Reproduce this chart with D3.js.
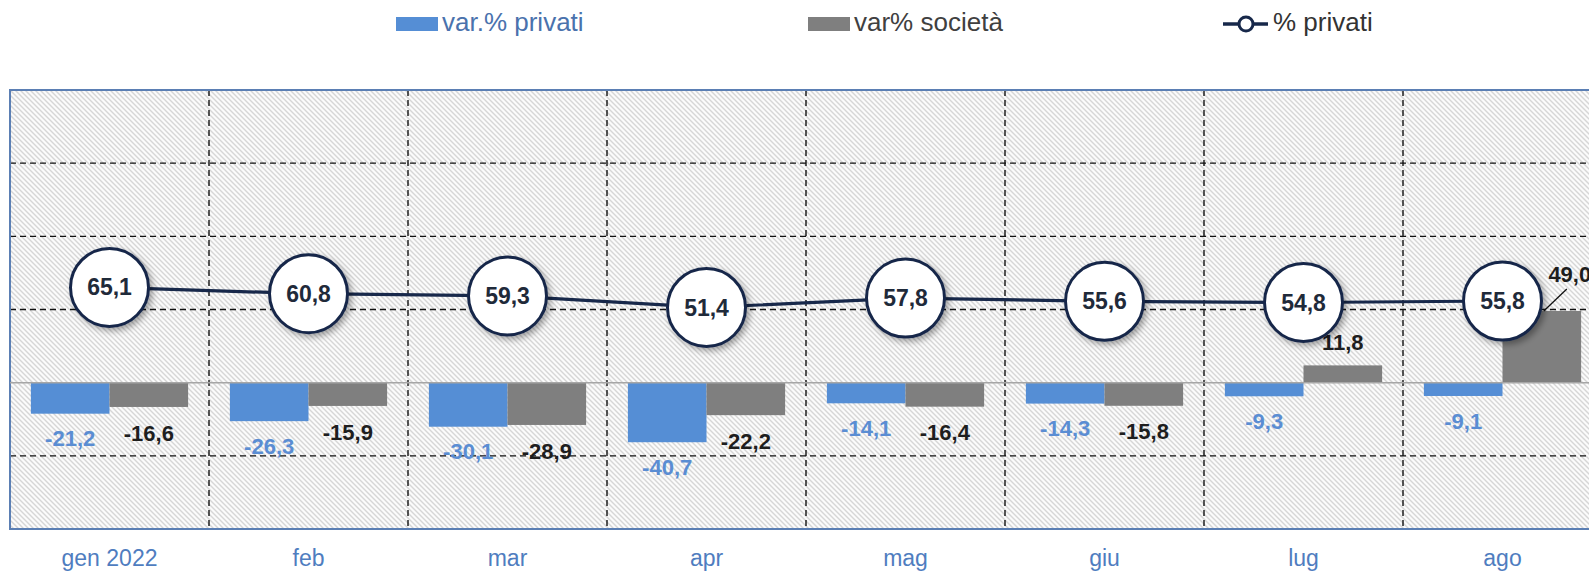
<!DOCTYPE html>
<html>
<head>
<meta charset="utf-8">
<script src="https://cdn.jsdelivr.net/npm/d3@7"></script>
<style>
  body { margin: 0; background: #fff; overflow: hidden; }
  svg { display: block; font-family: "Liberation Sans", Arial, sans-serif; }
</style>
</head>
<body>
<svg></svg>
<script>
const width = 1589;
const height = 573;

const months = ["gen 2022", "feb", "mar", "apr", "mag", "giu", "lug", "ago"];
const varPrivati = [-21.2, -26.3, -30.1, -40.7, -14.1, -14.3, -9.3, -9.1];
const varSocieta = [-16.6, -15.9, -28.9, -22.2, -16.4, -15.8, 11.8, 49.0];
const quotaPrivati = [65.1, 60.8, 59.3, 51.4, 57.8, 55.6, 54.8, 55.8];
const yTicks = [-50, 0, 50, 100, 150];

const blue = "#558ed5";
const grey = "#7f7f7f";
const navy = "#17284a";

const svg = d3.select("svg").attr("width", width).attr("height", height);
const fmt = v => d3.format(".1f")(v).replace(".", ",").replace("\u2212", "-");

const plot = { left: 10, top: 90, bottom: 529, bandW: 199 };

const x = d3.scaleBand().domain(months)
  .range([plot.left, plot.left + plot.bandW * months.length]).padding(0);
const xs = d3.scaleBand().domain(["privati", "societa"])
  .range([x.bandwidth() * 0.105, x.bandwidth() * 0.895]);
const y = d3.scaleLinear().domain([-100, 200]).range([plot.bottom, plot.top]);

const defs = svg.append("defs");
const pat = defs.append("pattern").attr("id", "hatch")
  .attr("patternUnits", "userSpaceOnUse").attr("width", 5).attr("height", 5);
pat.append("rect").attr("width", 5).attr("height", 5).attr("fill", "#fbfbfb");
pat.append("path").attr("d", "M-1,-1 L6,6 M-1,4 L1,6 M4,-1 L6,1")
  .attr("stroke", "#d6d6d6").attr("stroke-width", 1.4);

const shadow = defs.append("filter").attr("id", "shadow")
  .attr("x", "-30%").attr("y", "-30%").attr("width", "170%").attr("height", "170%");
shadow.append("feDropShadow").attr("dx", 3).attr("dy", 3)
  .attr("stdDeviation", 3).attr("flood-color", "#000").attr("flood-opacity", 0.35);

// plot area
const [x0, x1] = x.range();
svg.append("rect")
  .attr("x", x0).attr("y", y(200))
  .attr("width", x1 - x0).attr("height", y(-100) - y(200))
  .attr("fill", "url(#hatch)");

// grid
svg.append("g").selectAll("line")
  .data(yTicks.filter(d => d !== 0))
  .join("line")
  .attr("x1", x0).attr("x2", x1)
  .attr("y1", d => y(d)).attr("y2", d => y(d))
  .attr("stroke", "#111").attr("stroke-width", 1.4).attr("stroke-dasharray", "6,4");

svg.append("g").selectAll("line")
  .data(months.slice(1))
  .join("line")
  .attr("x1", d => x(d)).attr("x2", d => x(d))
  .attr("y1", y(200)).attr("y2", y(-100))
  .attr("stroke", "#111").attr("stroke-width", 1.4).attr("stroke-dasharray", "6,4");

// border
svg.append("rect")
  .attr("x", x0).attr("y", y(200))
  .attr("width", x1 - x0).attr("height", y(-100) - y(200))
  .attr("fill", "none").attr("stroke", "#5b7fb4").attr("stroke-width", 2);

// bars
const rows = months.map((m, i) => ({ m, p: varPrivati[i], s: varSocieta[i], q: quotaPrivati[i] }));

const barG = svg.append("g");
barG.selectAll(".bp").data(rows).join("rect")
  .attr("x", d => x(d.m) + xs("privati"))
  .attr("width", xs.bandwidth())
  .attr("y", d => y(Math.max(0, d.p)))
  .attr("height", d => Math.abs(y(d.p) - y(0)))
  .attr("fill", blue);
barG.selectAll(".bs").data(rows).join("rect")
  .attr("x", d => x(d.m) + xs("societa"))
  .attr("width", xs.bandwidth())
  .attr("y", d => y(Math.max(0, d.s)))
  .attr("height", d => Math.abs(y(d.s) - y(0)))
  .attr("fill", grey);

// zero line
svg.append("line")
  .attr("x1", x0).attr("x2", x1)
  .attr("y1", y(0)).attr("y2", y(0))
  .attr("stroke", "#a6a6a6").attr("stroke-width", 1.5);

// bar labels
const labG = svg.append("g").attr("font-weight", "bold").attr("font-size", 22)
  .attr("text-anchor", "middle");
labG.selectAll(".lp").data(rows).join("text")
  .attr("x", d => x(d.m) + xs("privati") + xs.bandwidth() / 2)
  .attr("y", d => d.p < 0 ? y(d.p) + 25 : y(d.p) - 25)
  .attr("dy", "0.35em")
  .attr("fill", "#5a8dd3")
  .text(d => fmt(d.p));

const last = rows.length - 1;
labG.selectAll(".ls").data(rows).join("text")
  .attr("x", (d, i) => x(d.m) + xs("societa") + xs.bandwidth() / 2 + (i === last ? 28 : 0))
  .attr("y", (d, i) => i === last ? y(d.s) - 37 : (d.s < 0 ? y(d.s) + 26 : y(d.s) - 23))
  .attr("dy", "0.35em")
  .attr("fill", "#1e1e1e")
  .text(d => fmt(d.s));

// leader line for the moved label
const lr = rows[last];
svg.append("line")
  .attr("x1", x(lr.m) + xs("societa") + xs.bandwidth() / 2 + 2)
  .attr("y1", y(lr.s))
  .attr("x2", x(lr.m) + xs("societa") + xs.bandwidth() / 2 + 25)
  .attr("y2", y(lr.s) - 22)
  .attr("stroke", "#111").attr("stroke-width", 1.3);

// line series
const cx = d => x(d.m) + x.bandwidth() / 2;
svg.append("path")
  .datum(rows)
  .attr("d", d3.line().x(cx).y(d => y(d.q)))
  .attr("fill", "none").attr("stroke", navy).attr("stroke-width", 3.2);

const mk = svg.append("g").selectAll("g").data(rows).join("g")
  .attr("transform", d => `translate(${cx(d)},${y(d.q)})`);
mk.append("circle").attr("r", 39)
  .attr("fill", "#fff").attr("stroke", navy).attr("stroke-width", 3)
  .attr("filter", "url(#shadow)");
mk.append("text")
  .attr("text-anchor", "middle").attr("dy", "0.35em")
  .attr("font-size", 23).attr("font-weight", "bold").attr("fill", "#1f2a3a")
  .text(d => fmt(d.q));

// x axis labels
svg.append("g").selectAll("text").data(months).join("text")
  .attr("x", d => x(d) + x.bandwidth() / 2)
  .attr("y", 566)
  .attr("text-anchor", "middle")
  .attr("font-size", 23).attr("fill", "#4f7dbf")
  .text(d => d);

// legend
const legend = svg.append("g").attr("font-size", 26);
legend.append("rect").attr("x", 396).attr("y", 17).attr("width", 42).attr("height", 14).attr("fill", blue);
legend.append("text").attr("x", 442).attr("y", 31).attr("fill", "#4a72ad").text("var.% privati");
legend.append("rect").attr("x", 808).attr("y", 17).attr("width", 42).attr("height", 14).attr("fill", grey);
legend.append("text").attr("x", 854).attr("y", 31).attr("fill", "#404040").text("var% società");
legend.append("line").attr("x1", 1223).attr("x2", 1268).attr("y1", 24).attr("y2", 24)
  .attr("stroke", navy).attr("stroke-width", 3.5);
legend.append("circle").attr("cx", 1246).attr("cy", 24).attr("r", 7)
  .attr("fill", "#fff").attr("stroke", navy).attr("stroke-width", 3);
legend.append("text").attr("x", 1273).attr("y", 31).attr("fill", "#333").text("% privati");
</script>
</body>
</html>
